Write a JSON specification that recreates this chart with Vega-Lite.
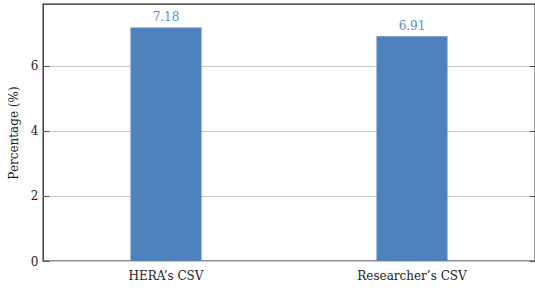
{
  "$schema": "https://vega.github.io/schema/vega-lite/v6.json",
  "width": 492,
  "height": 257,
  "autosize": "none",
  "padding": {"left": 43, "top": 4, "right": 0, "bottom": 27},
  "background": "white",
  "config": {
    "font": "DejaVu Serif",
    "view": {"stroke": "#222222", "strokeWidth": 1.3},
    "text": {"font": "DejaVu Serif"},
    "axis": {"labelFont": "DejaVu Serif", "titleFont": "DejaVu Serif", "labelColor": "#222", "titleColor": "#222"}
  },
  "data": {"values": [
    {"source": "HERA’s CSV", "pct": 7.18},
    {"source": "Researcher’s CSV", "pct": 6.91}
  ]},
  "encoding": {
    "x": {"field": "source", "type": "nominal", "sort": null,
      "scale": {"paddingInner": 0, "paddingOuter": 0},
      "axis": {"title": null, "labelAngle": 0, "ticks": false, "domain": false, "labelFontSize": 12, "labelPadding": 9}},
    "y": {"field": "pct", "type": "quantitative",
      "scale": {"domain": [0, 7.9], "nice": false, "zero": true}}
  },
  "resolve": {"axis": {"y": "independent"}},
  "layer": [
    {
      "mark": {"type": "bar", "width": 71, "color": "#4f81bd"},
      "encoding": {
        "y": {"field": "pct", "type": "quantitative",
          "scale": {"domain": [0, 7.9], "nice": false},
          "axis": {"orient": "left", "title": "Percentage (%)", "titleFontSize": 12, "titleFontWeight": "normal", "titlePadding": 10,
            "values": [0, 2, 4, 6], "labelFontSize": 12, "grid": true, "gridColor": "#c8c8c8", "gridWidth": 1,
            "domain": false, "tickSize": -6, "tickColor": "#555", "labelPadding": 11}}
      }
    },
    {
      "mark": {"type": "text", "baseline": "bottom", "dy": -3, "fontSize": 12, "color": "#5b8bc8", "font": "DejaVu Serif"},
      "encoding": {
        "text": {"field": "pct", "type": "quantitative", "format": ".2f"},
        "y": {"field": "pct", "type": "quantitative",
          "scale": {"domain": [0, 7.9], "nice": false},
          "axis": {"orient": "right", "title": null, "values": [0, 2, 4, 6], "labels": false, "grid": false,
            "domain": false, "tickSize": -6, "tickColor": "#555"}}
      }
    }
  ]
}
